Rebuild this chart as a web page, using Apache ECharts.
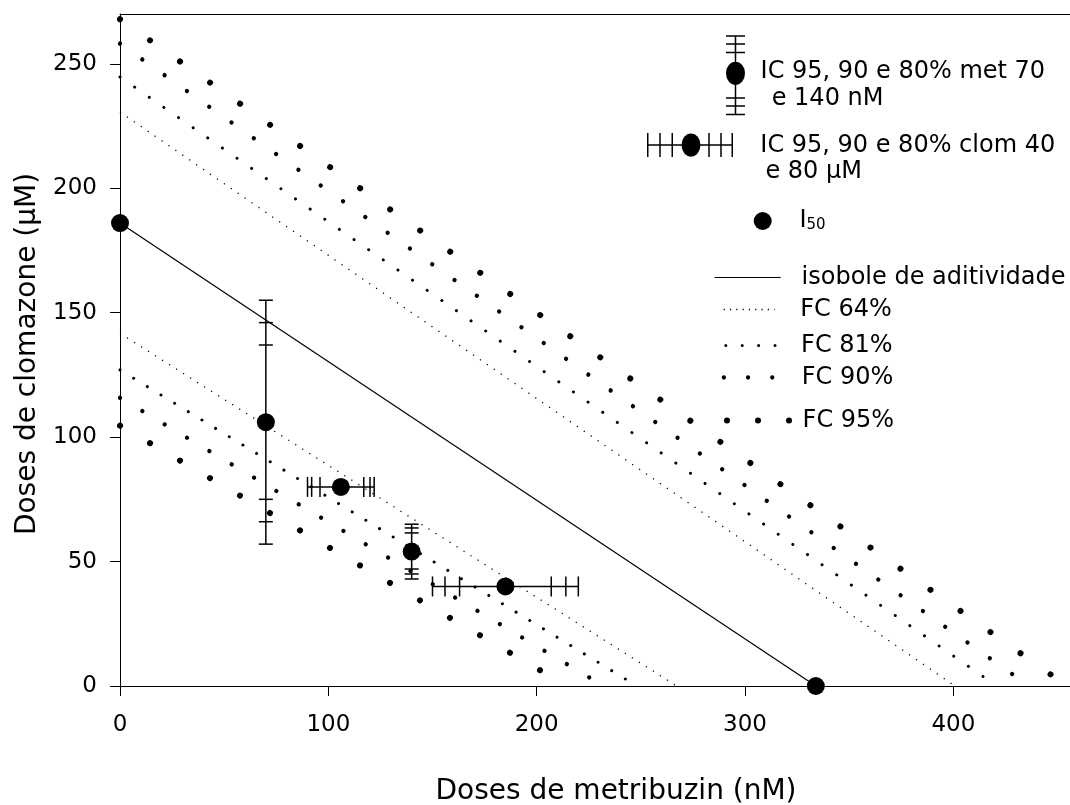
<!DOCTYPE html>
<html>
<head>
<meta charset="utf-8">
<script src="https://cdn.jsdelivr.net/npm/echarts@6/dist/echarts.min.js"></script>
<style>
    html, body { margin: 0; padding: 0; background: #fff; }
    #main-chart { width: 1070px; height: 805px; }
</style>
</head>
<body>
<div id="main-chart"></div>
<script>
const FONT = 'DejaVu Sans';

// ticks
const xTicks = [0, 100, 200, 300, 400];
const yTicks = [0, 50, 100, 150, 200, 250];

// I50 e isobole de aditividade (metribuzin nM, clomazone uM)
const i50Met = [0, 334];
const i50Clom = [186, 0];

// FC lines: [intercepto clomazone, intercepto metribuzin], inferior e superior
const fc64 = [[141.7, 267.2], [230.6, 400.7]];
const fc81 = [[127.0, 248.1], [244.7, 420.8]];
const fc90 = [[115.8, 232.1], [258.1, 436.3]];
const fc95 = [[104.6, 214.6], [267.9, 454.6]];

// IC met 70 e 140 nM (barras verticais, em clomazone)
const metDose = [70, 140];
const metClom = [106, 54];
const metIC95 = [[57, 155], [43, 65]];
const metIC90 = [[66, 146], [45, 63.5]];
const metIC80 = [[75, 137], [47, 61.5]];

// IC clom 80 e 40 uM (barras horizontais, em metribuzin)
const clomDose = [80, 40];
const clomMet = [106, 185];
const clomIC95 = [[90, 122], [150, 220]];
const clomIC90 = [[92, 120], [156, 214]];
const clomIC80 = [[96, 117], [163, 207]];

// dot styles of the FC lines (lower, upper)
const fcStyles = {
    'FC 64%': {width: 1.3, cap: 'butt', dash: [[1.2, 7.1], [1.2, 7.2]]},
    'FC 81%': {width: 3, cap: 'round', dash: [[0.01, 16.0], [0.01, 17.8]]},
    'FC 90%': {width: 4.3, cap: 'round', dash: [[0.01, 26.0], [0.01, 27.3]]},
    'FC 95%': {width: 6, cap: 'round', dash: [[0.01, 34.7], [0.01, 36.7]]}
};

function fcSeries(name, lines) {
    const st = fcStyles[name];
    return lines.map(function (p, i) {
        return {
            name: name, type: 'line', symbol: 'none', clip: false, silent: true, z: 2,
            data: [[0, p[0]], [p[1], 0]],
            lineStyle: {color: '#000', width: st.width, type: st.dash[i], cap: st.cap}
        };
    });
}

function errorBar(vertical, capHalf) {
    return function (params, api) {
        const x = api.value(0), y = api.value(1);
        const c = api.coord([x, y]);
        const at = function (v) { return vertical ? api.coord([x, v]) : api.coord([v, y]); };
        const st = {stroke: '#000', lineWidth: 1.5};
        const lo = at(api.value(2)), hi = at(api.value(3));
        const children = [{type: 'line', shape: {x1: lo[0], y1: lo[1], x2: hi[0], y2: hi[1]}, style: st}];
        for (let k = 2; k < 8; k++) {
            const p = at(api.value(k));
            const shape = vertical
                ? {x1: p[0] - capHalf, y1: p[1], x2: p[0] + capHalf, y2: p[1]}
                : {x1: p[0], y1: p[1] - capHalf, x2: p[0], y2: p[1] + capHalf};
            children.push({type: 'line', shape: shape, style: st});
        }
        children.push({type: 'circle', shape: {cx: c[0], cy: c[1], r: 9}, style: {fill: '#000'}});
        return {type: 'group', children: children};
    };
}

const metData = metDose.map(function (d, i) {
    return [d, metClom[i], metIC95[i][0], metIC95[i][1], metIC90[i][0], metIC90[i][1], metIC80[i][0], metIC80[i][1]];
});
const clomData = clomDose.map(function (d, i) {
    return [clomMet[i], d, clomIC95[i][0], clomIC95[i][1], clomIC90[i][0], clomIC90[i][1], clomIC80[i][0], clomIC80[i][1]];
});

// legend icons
const metIcon = 'path://M0 0h19v1.5h-19z M0 8h19v1.5h-19z M0 16.5h19v1.5h-19z M0 62h19v1.5h-19z M0 70h19v1.5h-19z M0 78.5h19v1.5h-19z M8.75 0h1.5v80h-1.5z M0 38a9.5 11.5 0 1 1 19 0a9.5 11.5 0 1 1 -19 0z';
const clomIcon = 'path://M0 0h1.5v24h-1.5z M12.25 0h1.5v24h-1.5z M24.5 0h1.5v24h-1.5z M61.25 0h1.5v24h-1.5z M73.25 0h1.5v24h-1.5z M84.5 0h1.5v24h-1.5z M0 11.25h86v1.5h-86z M34.5 12a9.5 11.5 0 1 1 19 0a9.5 11.5 0 1 1 -19 0z';

const LH = 24;

// legend with icon and one text line centred on it
function legendBox(name, o) {
    const pad = o.pad || [0, 0, 0, 0];
    const boxH = Math.max(o.h, LH);
    return {
        show: true,
        data: [o.icon ? {name: name, icon: o.icon} : name],
        left: o.left, top: o.cy - boxH / 2,
        orient: 'vertical', padding: 0, itemGap: 0,
        itemWidth: o.w, itemHeight: o.h,
        selectedMode: false,
        formatter: o.text || '{name}',
        textStyle: {fontFamily: FONT, fontSize: 24, color: '#000', lineHeight: LH, padding: pad, rich: o.rich},
        itemStyle: o.itemStyle || {borderWidth: 0},
        lineStyle: o.lineStyle
    };
}

// legend showing only the icon
function iconOnly(name, icon, left, top, w, h) {
    return {
        show: true, data: [{name: name, icon: icon}],
        left: left, top: top, orient: 'vertical', padding: 0, itemGap: 0,
        itemWidth: w, itemHeight: h, selectedMode: false,
        formatter: ' ', textStyle: {fontSize: 1, lineHeight: 1},
        itemStyle: {borderWidth: 0}
    };
}

// legend showing only a text line
function textOnly(name, text, x, cy) {
    return {
        show: true, data: [name],
        left: x - 6, top: cy - LH / 2, orient: 'vertical', padding: 0, itemGap: 0,
        itemWidth: 1, itemHeight: 1, selectedMode: false,
        formatter: text,
        textStyle: {fontFamily: FONT, fontSize: 24, color: '#000', lineHeight: LH},
        itemStyle: {opacity: 0, borderWidth: 0}
    };
}

const hideSymbol = {opacity: 0, borderWidth: 0};

const legends = [
    iconOnly('met', metIcon, 726, 35.25, 19, 80),
    textOnly('met', 'IC 95, 90 e 80% met 70', 760.6, 71.7),
    textOnly('met', 'e 140 nM', 771.7, 98.5),
    iconOnly('clom', clomIcon, 647, 133, 86, 24),
    textOnly('clom', 'IC 95, 90 e 80% clom 40', 760.3, 145.3),
    textOnly('clom', 'e 80 µM', 765.4, 171.5),
    legendBox('I50', {left: 753.7, cy: 221, w: 18, h: 18, pad: [0, 0, 0, 22.8], text: 'I{sub|50}',
        rich: {sub: {fontFamily: FONT, fontSize: 15, lineHeight: 11, verticalAlign: 'bottom', color: '#000'}}}),
    legendBox('isobole de aditividade', {left: 714, cy: 277.5, w: 66, h: 10, pad: [0, 0, 0, 16],
        itemStyle: hideSymbol, lineStyle: {width: 1.2, type: 'solid'}}),
    legendBox('FC 64%', {left: 723, cy: 309.5, w: 51, h: 10, pad: [0, 0, 0, 20.6],
        itemStyle: hideSymbol, lineStyle: {width: 1.3, type: [1.2, 5.1], cap: 'butt'}}),
    legendBox('FC 81%', {left: 724.3, cy: 345.5, w: 50, h: 10, pad: [0, 0, 0, 20.3],
        itemStyle: hideSymbol, lineStyle: {width: 3, type: [0.01, 16.4], cap: 'round'}}),
    legendBox('FC 90%', {left: 721.7, cy: 377.5, w: 50, h: 10, pad: [0, 0, 0, 22.9],
        itemStyle: hideSymbol, lineStyle: {width: 4.3, type: [0.01, 24.2], cap: 'round'}}),
    legendBox('FC 95%', {left: 724, cy: 420.5, w: 64, h: 10, pad: [0, 0, 0, 6.6],
        itemStyle: hideSymbol, lineStyle: {width: 6, type: [0.01, 31], cap: 'round'}})
];

const axisColor = '#000';

const option = {
    animation: false,
    backgroundColor: '#fff',
    grid: {left: 120, right: 0, top: 14, bottom: 119, outerBoundsMode: 'none'},
    legend: legends,
    xAxis: [{
        type: 'value', min: 0, max: 456, position: 'bottom',
        name: 'Doses de metribuzin (nM)', nameLocation: 'middle', nameGap: 92,
        nameTextStyle: {fontFamily: FONT, fontSize: 28, color: '#000', padding: [0, 0, 0, 42]},
        axisLine: {show: true, onZero: false, lineStyle: {color: axisColor, width: 1}},
        axisTick: {show: true, inside: false, length: 10, customValues: xTicks, lineStyle: {color: axisColor, width: 1}},
        axisLabel: {show: true, customValues: xTicks, margin: 28, fontFamily: FONT, fontSize: 23, color: '#000'},
        splitLine: {show: false}
    }, {
        type: 'value', min: 0, max: 456, position: 'top',
        axisLine: {show: true, onZero: false, lineStyle: {color: axisColor, width: 1}},
        axisTick: {show: false}, axisLabel: {show: false}, splitLine: {show: false}
    }],
    yAxis: {
        type: 'value', min: 0, max: 270,
        name: 'Doses de clomazone (µM)', nameLocation: 'middle', nameGap: 78,
        nameTextStyle: {fontFamily: FONT, fontSize: 28, color: '#000', padding: [0, 8, 0, 0]},
        axisLine: {show: true, onZero: false, lineStyle: {color: axisColor, width: 1}},
        axisTick: {show: true, inside: false, length: 10, customValues: yTicks, lineStyle: {color: axisColor, width: 1}},
        axisLabel: {show: true, customValues: yTicks, margin: 23, fontFamily: FONT, fontSize: 23, color: '#000'},
        splitLine: {show: false}
    },
    series: [].concat(
        fcSeries('FC 64%', fc64),
        fcSeries('FC 81%', fc81),
        fcSeries('FC 90%', fc90),
        fcSeries('FC 95%', fc95),
        [{
            name: 'isobole de aditividade', type: 'line', symbol: 'none', clip: false, silent: true, z: 2,
            data: i50Met.map(function (m, i) { return [m, i50Clom[i]]; }),
            lineStyle: {color: '#000', width: 1.2, type: 'solid'}
        }, {
            name: 'met', type: 'custom', z: 3, clip: false, silent: true,
            itemStyle: {color: '#000'},
            encode: {x: 0, y: 1},
            renderItem: errorBar(true, 7),
            data: metData
        }, {
            name: 'clom', type: 'custom', z: 3, clip: false, silent: true,
            itemStyle: {color: '#000'},
            encode: {x: 0, y: 1},
            renderItem: errorBar(false, 10),
            data: clomData
        }, {
            name: 'I50', type: 'scatter', symbol: 'circle', symbolSize: 18, clip: false, silent: true, z: 4,
            itemStyle: {color: '#000', opacity: 1},
            data: i50Met.map(function (m, i) { return [m, i50Clom[i]]; })
        }]
    )
};

const myChart = echarts.init(document.getElementById('main-chart'));
myChart.setOption(option);
</script>
</body>
</html>
